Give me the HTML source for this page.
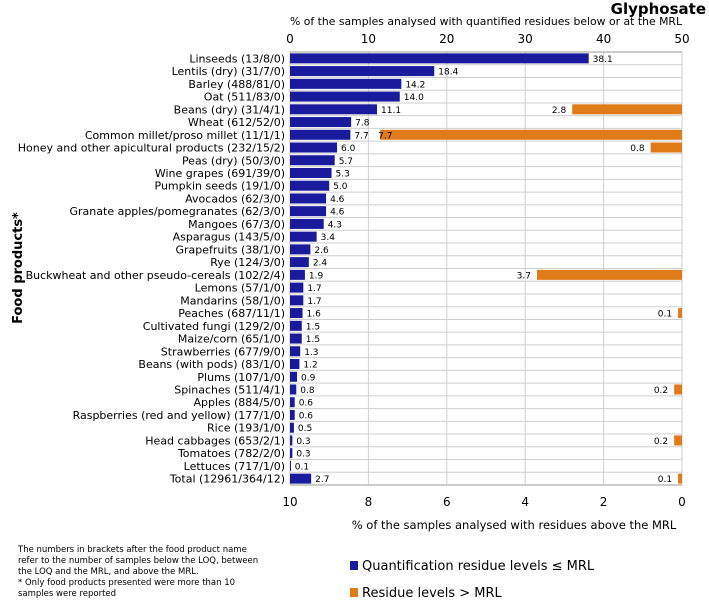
<!DOCTYPE html>
<html><head><meta charset="utf-8"><style>
body{margin:0;background:#fff;width:709px;height:599px;overflow:hidden;font-family:"DejaVu Sans","Liberation Sans",sans-serif}
svg text{font-family:"DejaVu Sans","Liberation Sans",sans-serif}
</style></head><body>
<svg id="chart" width="709" height="599" xmlns="http://www.w3.org/2000/svg">
<text x="706" y="14" text-anchor="end" font-size="15" font-weight="bold">Glyphosate</text>
<text x="486" y="25" text-anchor="middle" font-size="11" textLength="392" lengthAdjust="spacingAndGlyphs">% of the samples analysed with quantified residues below or at the MRL</text>
<text x="514" y="529" text-anchor="middle" font-size="11.5">% of the samples analysed with residues above the MRL</text>
<text transform="translate(22,268) rotate(-90)" text-anchor="middle" font-size="13" font-weight="bold">Food products*</text>
<g id="grid"></g><g id="bars"></g><g id="labels"></g>
<text x="18" y="552" font-size="8.5"><tspan x="18">The numbers in brackets after the food product name</tspan><tspan x="18" dy="11">refer to the number of samples below the LOQ, between</tspan><tspan x="18" dy="11">the LOQ and the MRL, and above the MRL.</tspan><tspan x="18" dy="11">* Only food products presented were more than 10</tspan><tspan x="18" dy="11">samples were reported</tspan></text>
<g><rect x="350" y="561" width="8" height="9" fill="#1a1a9c"/><text x="362" y="570" font-size="13">Quantification residue levels ≤ MRL</text></g>
<g><rect x="350" y="588" width="8" height="9" fill="#e07b1a"/><text x="362" y="597" font-size="13">Residue levels &gt; MRL</text></g>
</svg>
<script>
const categories=["Linseeds (13/8/0)","Lentils (dry) (31/7/0)","Barley (488/81/0)","Oat (511/83/0)","Beans (dry) (31/4/1)","Wheat (612/52/0)","Common millet/proso millet (11/1/1)","Honey and other apicultural products (232/15/2)","Peas (dry) (50/3/0)","Wine grapes (691/39/0)","Pumpkin seeds (19/1/0)","Avocados (62/3/0)","Granate apples/pomegranates (62/3/0)","Mangoes (67/3/0)","Asparagus (143/5/0)","Grapefruits (38/1/0)","Rye (124/3/0)","Buckwheat and other pseudo-cereals (102/2/4)","Lemons (57/1/0)","Mandarins (58/1/0)","Peaches (687/11/1)","Cultivated fungi (129/2/0)","Maize/corn (65/1/0)","Strawberries (677/9/0)","Beans (with pods) (83/1/0)","Plums (107/1/0)","Spinaches (511/4/1)","Apples (884/5/0)","Raspberries (red and yellow) (177/1/0)","Rice (193/1/0)","Head cabbages (653/2/1)","Tomatoes (782/2/0)","Lettuces (717/1/0)","Total (12961/364/12)"];
const belowMRL=[38.1,18.4,14.2,14.0,11.1,7.8,7.7,6.0,5.7,5.3,5.0,4.6,4.6,4.3,3.4,2.6,2.4,1.9,1.7,1.7,1.6,1.5,1.5,1.3,1.2,0.9,0.8,0.6,0.6,0.5,0.3,0.3,0.1,2.7];
const aboveMRL=[0,0,0,0,2.8,0,7.7,0.8,0,0,0,0,0,0,0,0,0,3.7,0,0,0.1,0,0,0,0,0,0.2,0,0,0,0.2,0,0,0.1];
const topTicks=[0,10,20,30,40,50];
const bottomTicks=[10,8,6,4,2,0];
const NS="http://www.w3.org/2000/svg";
const X0=290,X1=682,TOP=52,BOT=485;
const n=categories.length,step=(BOT-TOP)/n;
const xTop=v=>X0+v/50*(X1-X0);
const xBot=v=>X1-v/10*(X1-X0);
const yc=i=>TOP+step*(i+0.5);
function mk(tag,attrs,parent,txt){const e=document.createElementNS(NS,tag);for(const k in attrs)e.setAttribute(k,attrs[k]);if(txt!==undefined)e.textContent=txt;document.getElementById(parent).appendChild(e);return e;}
for(let i=0;i<=n;i++){const y=TOP+step*i;const l=mk('line',{x1:X0,x2:X1,y1:y,y2:y,stroke:i==n?'#999':'#cfcfcf','stroke-width':1},'grid');

}
topTicks.forEach(t=>{const x=xTop(t);const l=mk('line',{x1:x,x2:x,y1:TOP,y2:BOT,stroke:'#cfcfcf'},'grid');


const tx=mk('text',{x:x,y:43,'text-anchor':'middle','font-size':12},'labels',t);

});
bottomTicks.forEach(t=>{const tx=mk('text',{x:xBot(t),y:506,'text-anchor':'middle','font-size':12},'labels',t);

});
const ax=mk('line',{x1:X0,x2:X1,y1:TOP,y2:TOP,stroke:'#999'},'grid');


categories.forEach((c,i)=>{const y=yc(i);
const lb=mk('text',{x:285,y:y+4,'text-anchor':'end','font-size':11},'labels',c);


const v=belowMRL[i];const w=xTop(v)-X0;
const b=mk('rect',{x:X0,y:y-5,width:Math.max(w,1),height:10,fill:'#1a1a9c'},'bars');


const bx=X0+w+4;
const vt=mk('text',{x:bx,y:y+3.5,'font-size':9},'labels',v.toFixed(1));


const a=aboveMRL[i];if(a>0){const xa=xBot(a);
const ob=mk('rect',{x:xa,y:y-5,width:X1-xa,height:10,fill:'#e07b1a'},'bars');


let ox=xa-6,anchor='end';
if(ox-18<bx+18){ox=xa-2;anchor='start';}
const ot=mk('text',{x:ox,y:y+3.5,'text-anchor':anchor,'font-size':9},'labels',a.toFixed(1));

}});
</script>
</body></html>
